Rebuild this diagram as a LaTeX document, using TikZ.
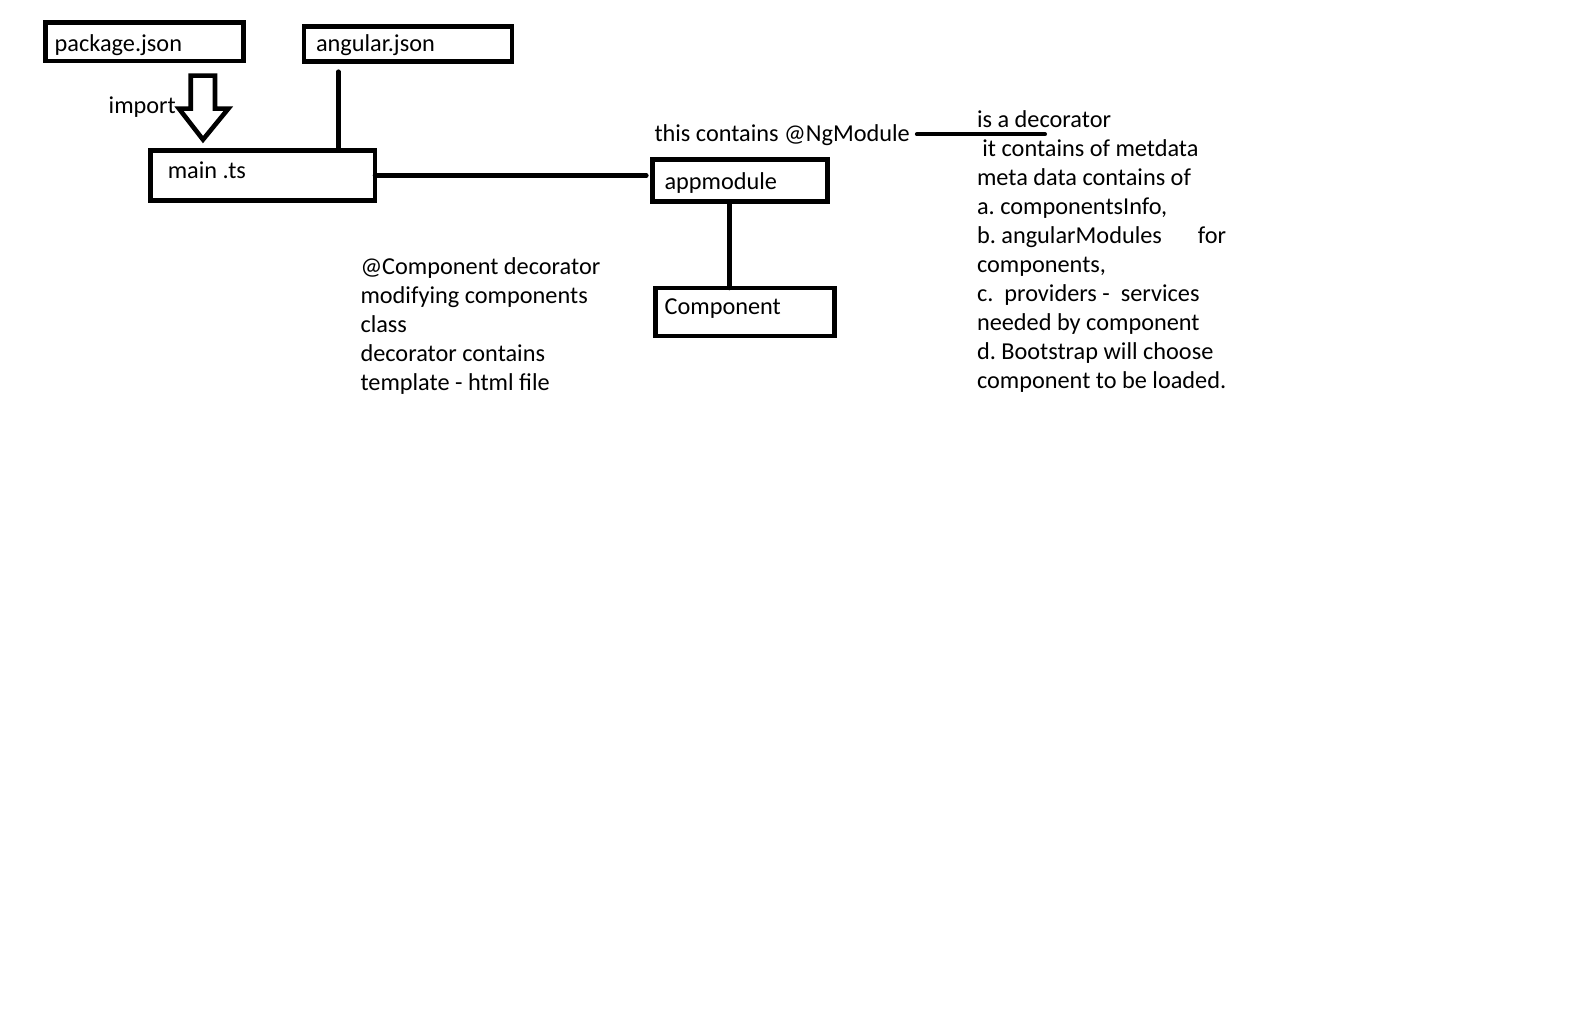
\documentclass[tikz,border=0pt]{standalone}
\usepackage{fontspec}
\setmainfont{Carlito}
\frenchspacing
\begin{document}
\begin{tikzpicture}[x=1pt,y=-1pt,
  every node/.style={inner sep=0pt, outer sep=0pt, font=\fontsize{24.3}{29}\selectfont},
  box/.style={draw, line width=4.8pt, align=flush left, text depth=0pt},
  conn/.style={line width=4.6pt, line cap=round},
  note/.style={anchor=base west, align=left}]
\useasboundingbox[fill=white] (0,0) rectangle (1586,1027);

% boxes
\node[box, minimum width=198pt, minimum height=38.7pt, text width=180pt, text height=20pt]
  (pkg) at (144.7,41.65) {package.json};
\node[box, minimum width=208pt, minimum height=35.4pt, text width=184pt, text height=15.4pt]
  (ang) at (408,44) {angular.json};
\node[box, minimum width=224.4pt, minimum height=49.8pt, text width=190pt, text height=5.6pt]
  (main) at (262.8,175.5) {main .ts};
\node[box, minimum width=175.4pt, minimum height=42pt, text width=151pt, text height=18pt]
  (app) at (740,180.7) {appmodule};
\node[box, minimum width=178.8pt, minimum height=48pt, text width=160.8pt, text height=4pt]
  (comp) at (745,312) {Component};

% hollow block arrow from package.json down to main .ts
\draw[line width=4.6pt, line join=miter]
  (190.7,75.7) -- (215,75.7) -- (215,108.7) -- (228.3,108.7) -- (203,139.6)
  -- (179,108.7) -- (190.7,108.7) -- cycle;
\node[note] (imp) at (108.7,113.2) {import};

% connectors
\coordinate (angtail) at (338.3,71.7);
\draw[conn] (angtail) -- (angtail |- main.north);
\draw[conn] (main.east) -- ([xshift=-6pt]main.east -| app.west);
\coordinate (stemx) at (729.3,0);
\draw[conn] (app.south -| stemx) -- (comp.north -| stemx);

% notes (multi-line notes are placed by the baseline of their last line)
\node[note] (ngtext) at (654.5,141.2) {this contains @NgModule};
\coordinate (ngend) at (1045,134.3);
\draw[line width=4pt, line cap=round] ([xshift=7pt]ngtext.east |- ngend) -- (ngend);

\node[note] (meta) at (977,388.5) {is a decorator\\
  \hspace*{5.4pt}it contains of metdata\\
  meta data contains of\\
  a. componentsInfo,\\
  \makebox[221pt][l]{b. angularModules}for\\
  components,\\
  c.\ \ providers -\ \ services\\
  needed by component\\
  d. Bootstrap will choose\\
  component to be loaded.};

\node[note, font=\fontsize{24.3}{28.8}\selectfont] (compnote) at (360.5,390) {@Component decorator\\
  modifying components\\
  class\\
  decorator contains\\
  template - html file};
\end{tikzpicture}
\end{document}
